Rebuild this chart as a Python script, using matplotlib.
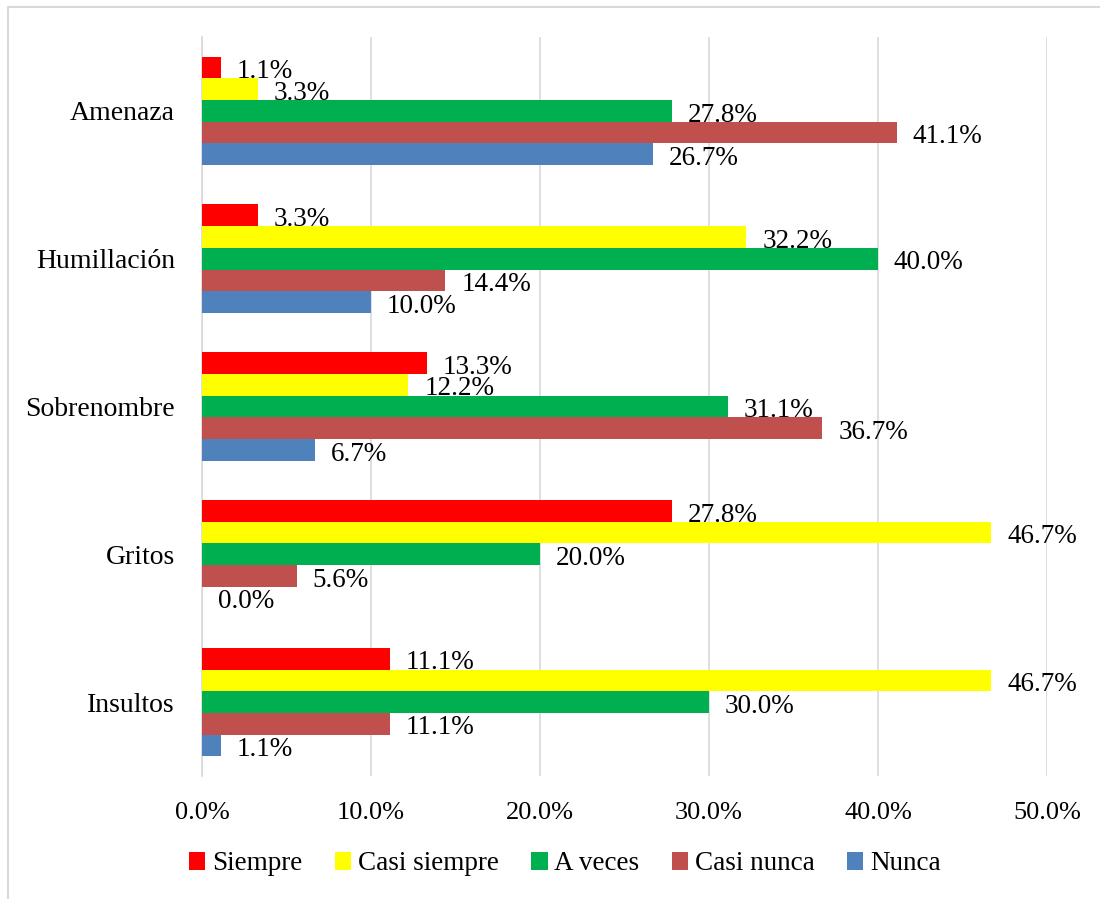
import numpy as np
import matplotlib.pyplot as plt
from matplotlib.patches import Rectangle
from matplotlib.ticker import FuncFormatter

plt.rcParams['font.family'] = ['Liberation Serif', 'DejaVu Serif']
plt.rcParams['font.size'] = 19.5

# Categories listed bottom to top (barh draws index 0 at the bottom)
categories = ['Insultos', 'Gritos', 'Sobrenombre', 'Humillación', 'Amenaza']
series = ['Siempre', 'Casi siempre', 'A veces', 'Casi nunca', 'Nunca']
colors = ['#FF0000', '#FFFF00', '#00B050', '#C0504D', '#4F81BD']

siempre = [11.1, 27.8, 13.3, 3.3, 1.1]
casi_siempre = [46.7, 46.7, 12.2, 32.2, 3.3]
a_veces = [30.0, 20.0, 31.1, 40.0, 27.8]
casi_nunca = [11.1, 5.6, 36.7, 14.4, 41.1]
nunca = [1.1, 0.0, 6.7, 10.0, 26.7]

values = [siempre, casi_siempre, a_veces, casi_nunca, nunca]

fig = plt.figure(figsize=(11, 8.99), dpi=100)
ax = fig.add_axes([202 / 1100, 1 - 776 / 899, 845 / 1100, 739 / 899])

# light outer frame
fig.patches.append(Rectangle((8 / 1100, -0.01), 1.1, 1 - 7 / 899 + 0.01,
                             transform=fig.transFigure, fill=False,
                             edgecolor='#D9D9D9', linewidth=1.5))

y = np.arange(len(categories))
h = 0.147
for i, (name, vals, col) in enumerate(zip(series, values, colors)):
    pos = y + (2 - i) * h
    ax.barh(pos, vals, height=h, color=col, label=name, zorder=3)
    for yy, v in zip(pos, vals):
        ax.annotate(f'{v:.1f}%', xy=(v, yy), xytext=(11.5, -3),
                    textcoords='offset points', va='center', ha='left',
                    fontsize=19.5, zorder=4, annotation_clip=False)

ax.set_xlim(0, 50)
ax.set_ylim(-0.5, 4.5)
ax.set_xticks(np.arange(0, 51, 10))
ax.xaxis.set_major_formatter(FuncFormatter(lambda v, p: f'{v:.1f}%'))
ax.set_yticks(y)
ax.set_yticklabels(categories, fontsize=20)
ax.tick_params(axis='x', length=0, labelsize=19)
ax.tick_params(axis='y', length=0)
ax.tick_params(axis='x', pad=19)
ax.tick_params(axis='y', pad=19.5)
ax.grid(axis='x', color='#D9D9D9', linewidth=1.2, zorder=0)
for s in ['top', 'right', 'bottom']:
    ax.spines[s].set_visible(False)
ax.spines['left'].set_color('#D9D9D9')
ax.spines['left'].set_linewidth(1.2)

ax.legend(loc='center', bbox_to_anchor=(565 / 1100, 1 - 864 / 899),
          bbox_transform=fig.transFigure, ncol=5, frameon=False,
          handlelength=0.6, handleheight=0.6, handletextpad=0.25,
          columnspacing=1.2, fontsize=19.5)

fig.savefig('out.png', dpi=100)
